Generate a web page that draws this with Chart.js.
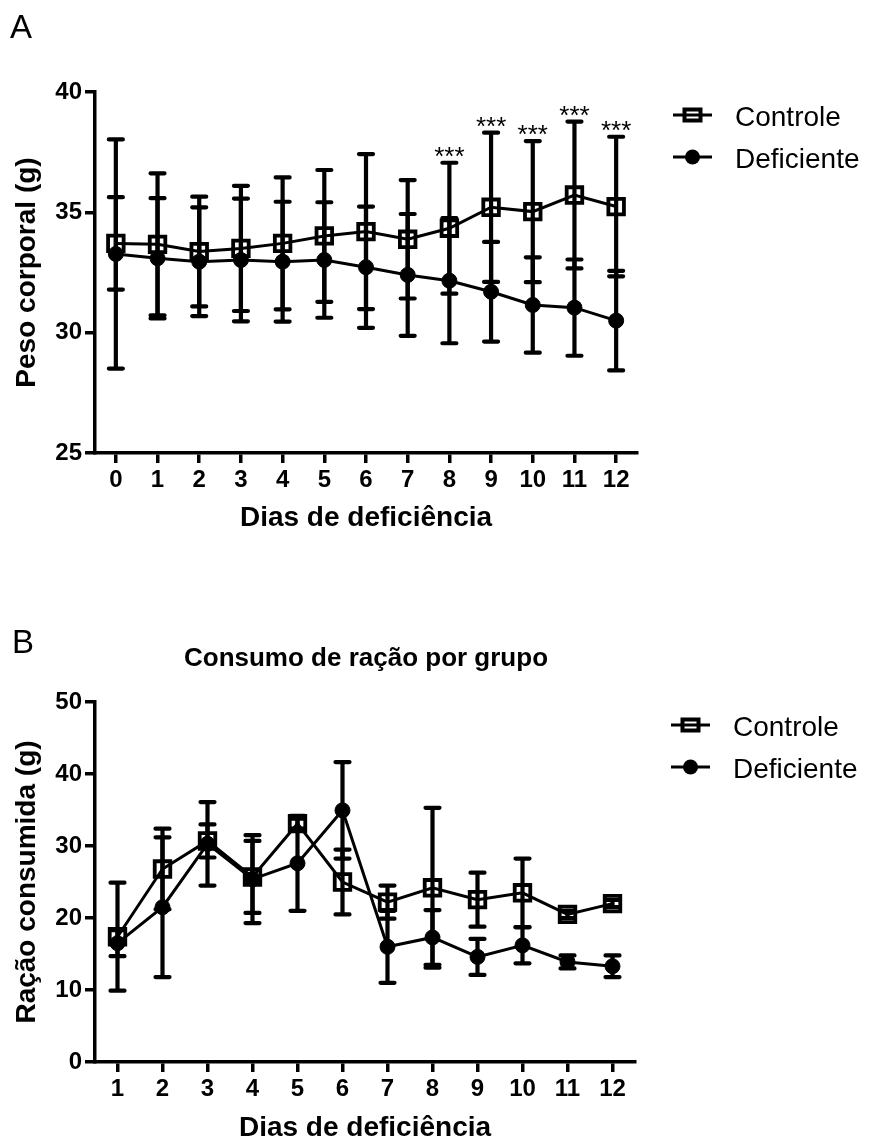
<!DOCTYPE html>
<html>
<head>
<meta charset="utf-8">
<script src="https://cdn.jsdelivr.net/npm/chart.js@4.4.1/dist/chart.umd.min.js"></script>
<style>
  html, body { margin: 0; padding: 0; background: #fff; }
  body { width: 871px; height: 1145px; position: relative; overflow: hidden;
         font-family: "Liberation Sans", Arial, sans-serif; color: #000; }
  .panel { position: absolute; left: 0; width: 871px; }
  #wrapA { top: 0; height: 560px; }
  #wrapB { top: 560px; height: 585px; }
  .letter { position: absolute; font-size: 33px; line-height: 1; }
  .title { position: absolute; left: 166px; width: 400px; text-align: center;
           font-size: 26px; font-weight: bold; line-height: 1; white-space: nowrap; }
</style>
</head>
<body>
<div id="wrapA" class="panel"><canvas id="chartA" width="871" height="560"></canvas></div>
<div id="wrapB" class="panel"><canvas id="chartB" width="871" height="585"></canvas></div>
<div class="letter" style="left:10px; top:10px;">A</div>
<div class="letter" style="left:12px; top:625px;">B</div>
<div class="title" style="top:644px;">Consumo de ração por grupo</div>

<script>
// ---- Painel A: peso corporal (média ± DP) ----
const diasPeso = ['0', '1', '2', '3', '4', '5', '6', '7', '8', '9', '10', '11', '12'];
const pesoControle      = [33.71, 33.67, 33.37, 33.50, 33.71, 34.02, 34.20, 33.88, 34.34, 35.21, 35.03, 35.72, 35.24];
const pesoControleDP    = [1.92, 2.95, 2.28, 2.60, 2.74, 2.74, 3.22, 2.46, 2.72, 3.10, 2.93, 3.05, 2.90];
const pesoDeficiente    = [33.27, 33.09, 32.95, 33.02, 32.95, 33.02, 32.72, 32.40, 32.16, 31.70, 31.15, 31.04, 30.50];
const pesoDeficienteDP  = [4.76, 2.50, 2.26, 2.55, 2.49, 2.40, 2.52, 2.53, 2.60, 2.07, 1.98, 2.00, 2.07];
const pesoSignificancia = ['', '', '', '', '', '', '', '', '***', '***', '***', '***', '***'];
const pesoTicks = [25, 30, 35, 40];

// ---- Painel B: consumo de ração (média ± DP) ----
const diasRacao = ['1', '2', '3', '4', '5', '6', '7', '8', '9', '10', '11', '12'];
const racaoControle     = [17.4, 26.8, 30.7, 25.7, 33.1, 25.0, 22.2, 24.2, 22.55, 23.5, 20.5, 22.0];
const racaoControleDP   = [7.5, 5.6, 2.3, 5.0, 0.7, 4.5, 2.3, 11.1, 3.75, 4.75, 0.5, 0.5];
const racaoDeficiente   = [16.5, 21.5, 30.3, 25.4, 27.6, 34.95, 16.0, 17.3, 14.6, 16.2, 13.9, 13.3];
const racaoDeficienteDP = [1.8, 9.7, 5.8, 6.1, 6.6, 6.7, 5.0, 3.8, 2.5, 2.5, 0.9, 1.5];
const racaoTicks = [0, 10, 20, 30, 40, 50];

const FONT = "'Liberation Sans', Arial, Helvetica, sans-serif";
Chart.defaults.font.family = FONT;
Chart.defaults.color = '#000';

// Barras de erro (média ± DP) desenhadas sob os marcadores
const errorBars = {
  id: 'errorBars',
  beforeDatasetsDraw(chart, args, opts) {
    const { ctx } = chart;
    const y = chart.scales.y;
    ctx.save();
    ctx.strokeStyle = '#000';
    ctx.lineWidth = 4.2;
    ctx.lineCap = 'round';
    chart.data.datasets.forEach((ds, di) => {
      const meta = chart.getDatasetMeta(di);
      const sd = opts.sd[di];
      ds.data.forEach((v, i) => {
        const px = meta.data[i].x;
        const top = y.getPixelForValue(v + sd[i]);
        const bot = y.getPixelForValue(v - sd[i]);
        const w = 7;
        ctx.beginPath();
        ctx.moveTo(px, top); ctx.lineTo(px, bot);
        ctx.moveTo(px - w, top); ctx.lineTo(px + w, top);
        ctx.moveTo(px - w, bot); ctx.lineTo(px + w, bot);
        ctx.stroke();
      });
    });
    ctx.restore();
  }
};

// Asteriscos de significância acima da barra superior do grupo controle
const significance = {
  id: 'significance',
  afterDatasetsDraw(chart, args, opts) {
    if (!opts.marks) return;
    const { ctx } = chart;
    const y = chart.scales.y;
    const meta = chart.getDatasetMeta(0);
    const ds = chart.data.datasets[0];
    ctx.save();
    ctx.fillStyle = '#000';
    ctx.font = '26px ' + FONT;
    ctx.textAlign = 'center';
    ctx.textBaseline = 'alphabetic';
    opts.marks.forEach((m, i) => {
      if (!m) return;
      const capY = y.getPixelForValue(ds.data[i] + opts.sd[i]);
      ctx.fillText(m, meta.data[i].x, capY + 2);
    });
    ctx.restore();
  }
};

// Legenda com linha e marcador, à direita da área do gráfico
const seriesLegend = {
  id: 'seriesLegend',
  afterDraw(chart, args, opts) {
    const { ctx, chartArea } = chart;
    ctx.save();
    chart.data.datasets.forEach((ds, i) => {
      const y = chartArea.top + opts.rows[i];
      const x0 = chartArea.right + 36, x1 = x0 + 39, xm = (x0 + x1) / 2;
      ctx.strokeStyle = '#000';
      ctx.lineWidth = 3;
      ctx.beginPath(); ctx.moveTo(x0, y); ctx.lineTo(x1, y); ctx.stroke();
      if (ds.pointStyle === 'rect') {
        ctx.lineWidth = 4;
        ctx.strokeRect(xm - 8, y - 5.5, 16, 11);
      } else {
        ctx.fillStyle = '#000';
        ctx.beginPath(); ctx.arc(xm, y, 7.5, 0, Math.PI * 2); ctx.fill();
      }
      ctx.fillStyle = '#000';
      ctx.font = '28px ' + FONT;
      ctx.textAlign = 'left';
      ctx.textBaseline = 'alphabetic';
      ctx.fillText(ds.label, chartArea.right + 98, y + 11);
    });
    ctx.restore();
  }
};

function seriesSets(controle, deficiente) {
  return [
    {
      label: 'Controle', data: controle,
      borderColor: '#000', borderWidth: 3, tension: 0,
      pointStyle: 'rect', pointRadius: 11, pointBorderWidth: 3.8,
      pointBorderColor: '#000', pointBackgroundColor: 'rgba(0,0,0,0)', clip: false
    },
    {
      label: 'Deficiente', data: deficiente,
      borderColor: '#000', borderWidth: 3, tension: 0,
      pointStyle: 'circle', pointRadius: 7.5, pointBorderWidth: 1,
      pointBorderColor: '#000', pointBackgroundColor: '#000', clip: false
    }
  ];
}

function axisCommon() {
  return {
    grid: { display: true, drawOnChartArea: false, drawTicks: true, tickLength: 10,
            color: '#000', lineWidth: 3.5, offset: false },
    border: { display: true, color: '#000', width: 3.5 },
  };
}

function buildOptions(cfg) {
  return {
    responsive: false,
    animation: false,
    events: [],
    layout: { padding: cfg.padding },
    plugins: {
      legend: { display: false },
      tooltip: { enabled: false },
      title: { display: false },
      errorBars: { sd: cfg.sd },
      significance: cfg.sig || {},
      seriesLegend: { rows: [23, 65] }
    },
    scales: {
      x: Object.assign(axisCommon(), {
        type: 'category', offset: true,
        ticks: { color: '#000', font: { family: FONT, size: 24, weight: 'bold' },
                 padding: 3, maxRotation: 0, autoSkip: false },
        title: { display: true, text: 'Dias de deficiência', color: '#000',
                 font: { family: FONT, size: 28, weight: 'bold' },
                 padding: { top: 0, bottom: cfg.xTitlePad } },
        afterFit(s) { s.height = cfg.xHeight; }
      }),
      y: Object.assign(axisCommon(), {
        min: cfg.yTicks[0], max: cfg.yTicks[cfg.yTicks.length - 1],
        afterBuildTicks(s) { s.ticks = cfg.yTicks.map(v => ({ value: v })); },
        ticks: { color: '#000', font: { family: FONT, size: 24, weight: 'bold' }, padding: 3 },
        title: { display: true, text: cfg.yTitle, color: '#000',
                 font: { family: FONT, size: 28, weight: 'bold' },
                 padding: { top: 10, bottom: 0 } },
        afterFit(s) { s.width = 95; }
      })
    }
  };
}

new Chart(document.getElementById('chartA'), {
  type: 'line',
  data: { labels: diasPeso, datasets: seriesSets(pesoControle, pesoDeficiente) },
  options: buildOptions({
    padding: { top: 92, right: 234, bottom: 22, left: 0 },
    xHeight: 85, xTitlePad: 3,
    yTicks: pesoTicks, yTitle: 'Peso corporal (g)',
    sd: [pesoControleDP, pesoDeficienteDP],
    sig: { marks: pesoSignificancia, sd: pesoControleDP }
  }),
  plugins: [errorBars, significance, seriesLegend]
});

new Chart(document.getElementById('chartB'), {
  type: 'line',
  data: { labels: diasRacao, datasets: seriesSets(racaoControle, racaoDeficiente) },
  options: buildOptions({
    padding: { top: 142, right: 236, bottom: 0, left: 0 },
    xHeight: 83, xTitlePad: 0,
    yTicks: racaoTicks, yTitle: 'Ração consumida (g)',
    sd: [racaoControleDP, racaoDeficienteDP]
  }),
  plugins: [errorBars, significance, seriesLegend]
});
</script>
</body>
</html>
